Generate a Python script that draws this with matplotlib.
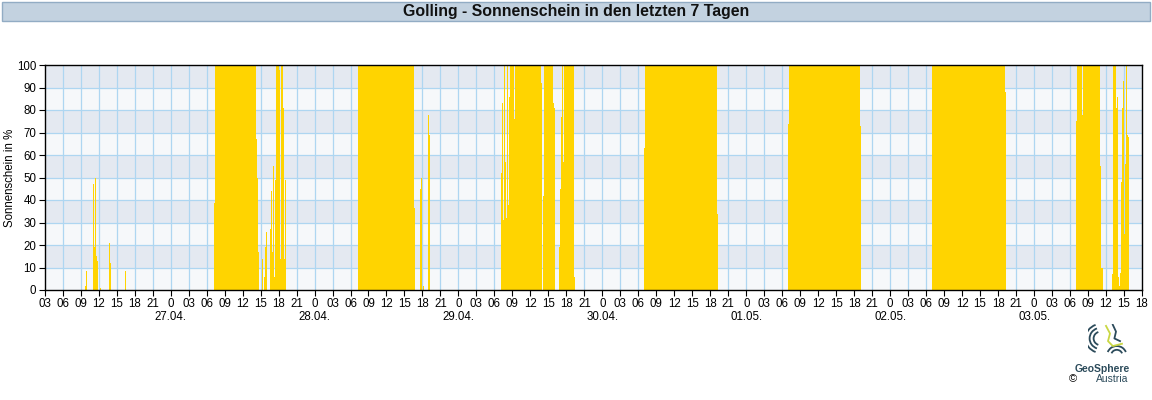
"""
Sunshine duration (10-minute values) at Golling over the last 7 days,
drawn in the style of the GeoSphere Austria station plots.
"""

import numpy as np
import pandas as pd
import matplotlib
matplotlib.use("Agg")
import matplotlib.pyplot as plt
import matplotlib.transforms as mtransforms
from matplotlib.patches import Rectangle, Arc

# ---------------------------------------------------------------------------
# Data: 10-minute sunshine share in %, one segment per sunny period
# ---------------------------------------------------------------------------
T_START = "2025-04-26 03:00"
T_END = "2025-05-03 18:00"

SEG_STARTS = [
    "2025-04-26 09:40",
    "2025-04-26 13:40",
    "2025-04-26 16:20",
    "2025-04-27 07:10",
    "2025-04-28 07:10",
    "2025-04-29 07:10",
    "2025-04-30 07:00",
    "2025-05-01 07:00",
    "2025-05-02 07:00",
    "2025-05-03 07:00",
]

sun_26a = [2, 8.4, 0, 0, 0, 0, 0, 0, 47, 19, 50, 15, 13, 0, 0, 1]
sun_26b = [21, 12]
sun_26c = [8.4]
sun_27 = ([38.5] + [100] * 41 +
          [67, 50, 17, 0, 0, 0, 14, 0, 6, 19, 26, 0, 0, 0, 27, 44, 17, 55,
           6, 49, 100, 100, 100, 98, 14, 100, 100, 81, 14, 49])
sun_28 = ([43] + [100] * 56 +
          [36.6, 0, 0, 0, 0, 0, 45, 50, 0, 2, 0, 0, 0, 0, 78, 69])
sun_29 = ([52, 83, 31, 100, 57, 32, 100, 38, 86, 100, 100, 100, 100, 76] +
          [100] * 26 + [92, 0, 42] + [100] * 9 +
          [83, 81, 0, 0, 0, 0, 19, 45, 77, 100, 57] + [100] * 10 + [6])
sun_30 = [63] + [100] * 72 + [34]
sun_01 = [74] + [100] * 71 + [73]
sun_02 = [100] * 73 + [88]
sun_03 = ([75] + [100] * 5 + [78] + [100] * 17 + [55, 10, 10] + [0] * 9 +
          [7, 100, 100, 100, 81, 86, 6, 2, 7.5, 48, 81, 93, 25, 56, 100, 69, 68])

SEG_VALUES = [sun_26a, sun_26b, sun_26c, sun_27, sun_28, sun_29,
              sun_30, sun_01, sun_02, sun_03]

DATE_LABELS = ["27.04.", "28.04.", "29.04.", "30.04.", "01.05.", "02.05.", "03.05."]

TITLE = "Golling - Sonnenschein in den letzten 7 Tagen"

# ---------------------------------------------------------------------------
# Style
# ---------------------------------------------------------------------------
SUN = "#FFD400"
BAND_DARK = "#E4E9F1"
BAND_LIGHT = "#F6F8FA"
GRID = "#AED6F1"
FONT = ["Liberation Sans", "DejaVu Sans"]

plt.rcParams["font.family"] = FONT

W, H = 1152, 400
fig = plt.figure(figsize=(W / 100, H / 100), dpi=100)

# ---- Title bar ------------------------------------------------------------
fig.add_artist(Rectangle((2 / W, 1 - 21 / H), 1148 / W, 19 / H,
                         transform=fig.transFigure, facecolor="#C3D2E0",
                         edgecolor="#92ACC4", linewidth=1))
fig.text(0.5, 1 - 11.5 / H, TITLE, ha="center", va="center",
         fontsize=11.4, fontweight="bold", color="#111111")

# ---- Main axes ------------------------------------------------------------
left, right, top, bottom = 44.7, 1142.0, 65.0, 290.0
ax = fig.add_axes([left / W, 1 - bottom / H, (right - left) / W, (bottom - top) / H])

t0 = pd.Timestamp(T_START)
total_h = (pd.Timestamp(T_END) - t0) / pd.Timedelta(hours=1)

# alternating background bands
for k in range(10):
    ax.axhspan(k * 10, (k + 1) * 10, color=BAND_DARK if k % 2 else BAND_LIGHT,
               zorder=0, linewidth=0)

# grid
for h in np.arange(3, total_h, 3):
    ax.axvline(h, color=GRID, linewidth=0.9, zorder=1)
for v in range(10, 100, 10):
    ax.axhline(v, color=GRID, linewidth=0.9, zorder=1)

# sunshine bars
for start, vals in zip(SEG_STARTS, SEG_VALUES):
    h0 = (pd.Timestamp(start) - t0) / pd.Timedelta(hours=1)
    xs = h0 + np.arange(len(vals)) / 6.0
    ax.bar(xs, vals, width=1 / 6.0, align="edge", color=SUN,
           linewidth=0, antialiased=False, zorder=2)

ax.set_xlim(0, total_h)
ax.set_ylim(0, 100)

# x ticks every 3 hours, midnight shown as "0"
xt = np.arange(0, total_h + 0.1, 3)
hod = [int((t0 + pd.Timedelta(hours=float(h))).hour) for h in xt]
ax.set_xticks(xt)
ax.set_xticklabels(["0" if hh == 0 else f"{hh:02d}" for hh in hod])
ax.set_yticks(range(0, 101, 10))
ax.tick_params(axis="both", labelsize=8.3, length=4, width=0.8,
               direction="out", color="black", pad=2)

for sp in ax.spines.values():
    sp.set_color("black")
    sp.set_linewidth(1.0)
    sp.set_zorder(5)

ax.set_ylabel("Sonnenschein in %", fontsize=8.3)
ax.yaxis.set_label_coords(-0.026, 0.5)

# date labels under each midnight
trans = mtransforms.blended_transform_factory(ax.transData, ax.transAxes)
midnights = [h for h, hh in zip(xt, hod) if hh == 0]
for h, lab in zip(midnights, DATE_LABELS):
    ax.text(h, -0.092, lab, transform=trans, ha="center", va="top", fontsize=8.3)

# ---- Logo (bottom right) --------------------------------------------------
LOGO = "#2C4B5B"
lx = fig.add_axes([1088 / W, 1 - 362 / H, 40 / W, 38 / H])
lx.set_xlim(0, 1)
lx.set_ylim(0, 1)
lx.axis("off")
for r in (0.18, 0.28, 0.38):
    lx.add_patch(Arc((0.32, 0.62), 2 * r, 2 * r, theta1=110, theta2=250,
                     color=LOGO, linewidth=1.3))
for r in (0.14, 0.24):
    lx.add_patch(Arc((0.72, 0.18), 2 * r, 2 * r, theta1=20, theta2=160,
                     color=LOGO, linewidth=1.3))
lx.plot([0.45, 0.55, 0.5, 0.62, 0.85], [0.95, 0.75, 0.55, 0.42, 0.48],
        color="#C9D743", linewidth=1.3)
lx.plot([0.62, 0.7, 0.66, 0.8], [0.98, 0.8, 0.62, 0.55], color=LOGO, linewidth=1.3)

fig.text(1102 / W, 1 - 369 / H, "GeoSphere", ha="center", va="center",
         fontsize=7.5, fontweight="bold", color=LOGO)
fig.text(1112 / W, 1 - 379 / H, "Austria", ha="center", va="center",
         fontsize=7.5, color=LOGO)
fig.text(1073 / W, 1 - 379 / H, "\u00a9", ha="center", va="center",
         fontsize=8, color="black")

fig.savefig("out.png", dpi=100)
plt.close(fig)
